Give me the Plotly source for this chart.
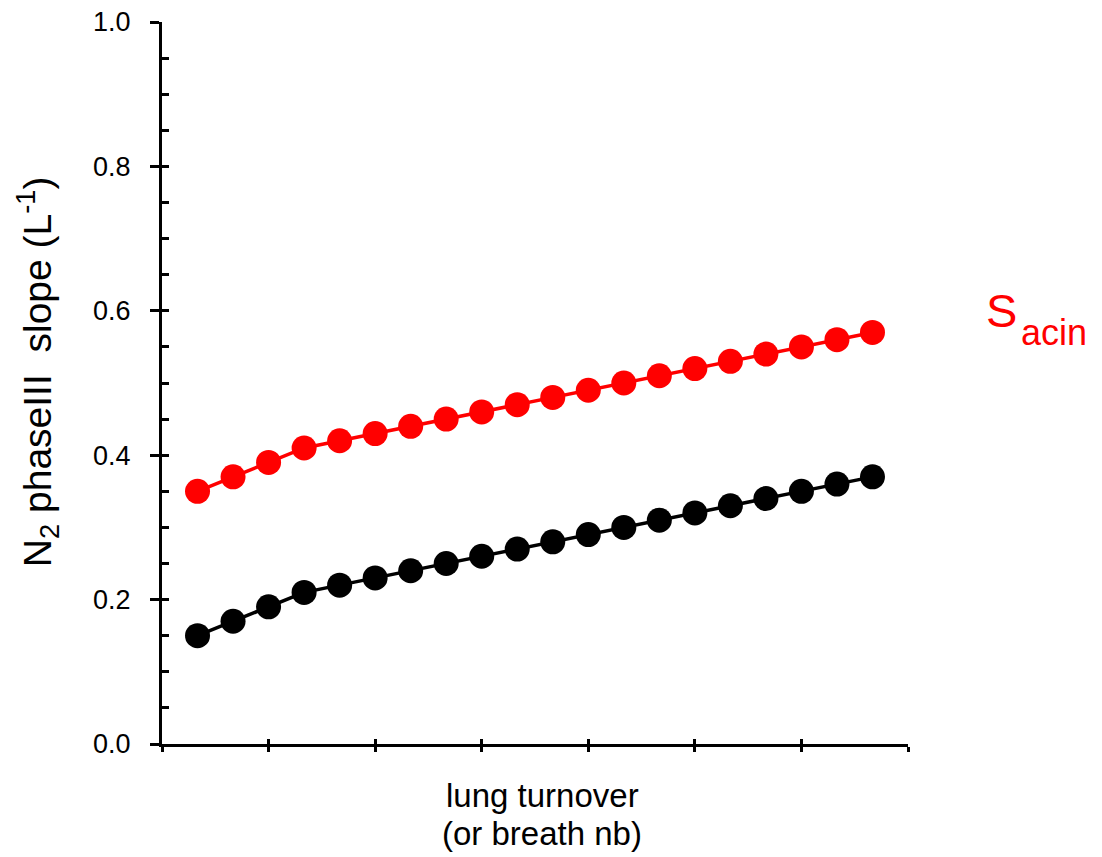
import plotly.graph_objects as go

# Breath number (lung turnover) and N2 phase III slopes
breath = list(range(1, 21))
s_acin = [0.35, 0.37, 0.39, 0.41, 0.42, 0.43, 0.44, 0.45, 0.46, 0.47,
          0.48, 0.49, 0.50, 0.51, 0.52, 0.53, 0.54, 0.55, 0.56, 0.57]
s_cond = [0.15, 0.17, 0.19, 0.21, 0.22, 0.23, 0.24, 0.25, 0.26, 0.27,
          0.28, 0.29, 0.30, 0.31, 0.32, 0.33, 0.34, 0.35, 0.36, 0.37]

FONT = "Liberation Sans, Arial, sans-serif"

fig = go.Figure()
fig.add_trace(go.Scatter(x=breath, y=s_acin, mode="lines+markers",
                         line=dict(color="#ff0000", width=3.5),
                         marker=dict(color="#ff0000", size=25),
                         showlegend=False))
fig.add_trace(go.Scatter(x=breath, y=s_cond, mode="lines+markers",
                         line=dict(color="#000000", width=3.5),
                         marker=dict(color="#000000", size=25),
                         showlegend=False))
# invisible trace so the overlay axes (inner half of crossing ticks) get drawn
fig.add_trace(go.Scatter(x=[0], y=[0], xaxis="x2", yaxis="y2", mode="markers",
                         marker=dict(opacity=0), showlegend=False, hoverinfo="skip"))

fig.update_layout(
    width=1102, height=857,
    margin=dict(l=162, r=194, t=22, b=113, autoexpand=False),
    paper_bgcolor="white", plot_bgcolor="white",
    font=dict(family=FONT, color="black"),
    xaxis=dict(range=[0, 21], tick0=0, dtick=3, ticks="outside", ticklen=5,
               tickwidth=3, tickcolor="black", showline=True, linewidth=3,
               linecolor="black", showgrid=False, zeroline=False,
               showticklabels=False, automargin=False),
    yaxis=dict(range=[0, 1.0], tick0=0, dtick=0.2, ticks="outside", ticklen=9,
               tickwidth=3, tickcolor="black", showline=True, linewidth=3,
               linecolor="black", showgrid=False, zeroline=False,
               tickformat=".1f", tickfont=dict(size=27, family=FONT),
               ticklabelstandoff=14, automargin=False),
    xaxis2=dict(range=[0, 21], tick0=0, dtick=3, ticks="inside", ticklen=5,
                tickwidth=3, tickcolor="black", overlaying="x", showline=False,
                showgrid=False, zeroline=False, showticklabels=False),
    yaxis2=dict(range=[0, 1.0], tick0=0, dtick=0.05, ticks="inside", ticklen=7,
                tickwidth=3, tickcolor="black", overlaying="y", showline=False,
                showgrid=False, zeroline=False, showticklabels=False),
    annotations=[
        dict(text="N<sub>2</sub> phaseIII  slope (L<sup>-1</sup>)", textangle=-90,
             xref="paper", yref="paper", x=0, y=0.515, xshift=-124,
             xanchor="center", yanchor="middle", showarrow=False,
             font=dict(size=39, family=FONT)),
        dict(text="lung turnover", xref="paper", yref="paper",
             x=0.51, y=0, yshift=-51, xanchor="center", yanchor="middle",
             showarrow=False, font=dict(size=33, family=FONT)),
        dict(text="(or breath nb)", xref="paper", yref="paper",
             x=0.51, y=0, yshift=-89, xanchor="center", yanchor="middle",
             showarrow=False, font=dict(size=33, family=FONT)),
        dict(text="S", xref="paper", yref="y", x=1.0, y=0.598, xshift=76,
             xanchor="left", yanchor="middle", showarrow=False, yshift=2,
             font=dict(size=47, family=FONT, color="#ff0000")),
        dict(text="acin", xref="paper", yref="y", x=1.0, y=0.56, xshift=111,
             xanchor="left", yanchor="middle", showarrow=False, yshift=7,
             font=dict(size=36, family=FONT, color="#ff0000")),
    ],
)

fig.write_html("out.html")
